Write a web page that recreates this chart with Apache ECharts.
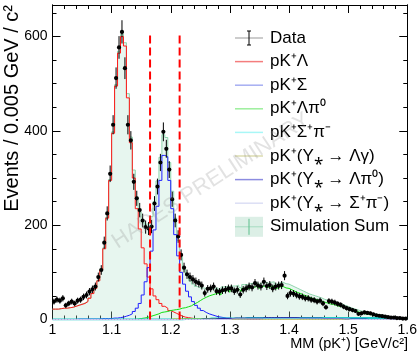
<!DOCTYPE html>
<html><head><meta charset="utf-8">
<script src="https://cdn.jsdelivr.net/npm/echarts@6/dist/echarts.min.js"></script>
<style>html,body{margin:0;padding:0;background:#fff}#c{width:420px;height:354px}</style>
</head><body><div id="c"></div>
<script>
// ---- binning ----
const xLow = 1.0, binWidth = 0.005;
const xTickLabels = ['1','1.1','1.2','1.3','1.4','1.5','1.6'];
const yTickLabels = ['0','200','400','600'];
const cutLines = [1.165, 1.215];
const cutTop = 608;

// ---- data (events per bin) ----
const dataCounts = [38,42,40,45,30,34,38,34,40,42,
 48,52,59,64,70,90,105,163,225,309,
 413,512,577,610,533,413,380,292,257,232,
 210,196,193,197,246,282,333,398,362,318,
 255,210,176,137,110,96,90,85,80,77,
 72,56,65,66,70,60,59,62,63,66,
 66,60,63,53,63,66,70,68,77,72,
 70,80,71,73,66,70,72,73,93,50,
 56,55,52,49,48,45,45,42,41,38,
 40,34,26,39,38,36,33,31,27,24,
 22,20,18,12,13,15,14,13,11,9,
 8,7,6,5,4,4,3,3,2,2];

// ---- simulated components ----
const pKLambda = [22,22,23,24,24,25,26,28,30,32,
 34,38,45,55,66,82,105,150,215,295,
 395,495,565,600,580,470,375,300,235,192,
 152,118,90,65,50,42,34,28,24,19,
 16,13,10,7,5,4,3,2,2,1,
 1,1,1,0,0,0,0,0,0,0,
 0,0,0,0,0,0,0,0,0,0,
 0,0,0,0,0,0,0,0,0,0,
 0,0,0,0,0,0,0,0,0,0,
 0,0,0,0,0,0,0,0,0,0,
 0,0,0,0,0,0,0,0,0,0,
 0,0,0,0,0,0,0,0,0,0];
const pKSigma = [0,0,0,0,0,0,0,0,1,1,
 1,1,1,1,1,1,2,2,2,2,
 3,3,4,5,7,9,12,17,24,34,
 52,80,110,145,190,240,295,348,345,295,
 235,180,135,100,75,60,48,38,30,24,
 19,15,12,10,8,6,5,4,3,3,
 2,2,2,1,1,1,1,1,1,1,
 1,1,1,1,1,1,1,1,1,1,
 1,1,1,1,1,0,0,0,0,0,
 0,0,0,0,0,0,0,0,0,0,
 0,0,0,0,0,0,0,0,0,0,
 0,0,0,0,0,0,0,0,0,0];
const pKLambdaPi0 = [0,0,0,0,0,0,0,0,0,0,
 0,0,0,0,0,0,0,0,0,0,
 0,0,0,0,0,0,0,0,1,2,
 3,4,6,8,10,12,15,16,17,19,
 20,21,22,24,25,27,29,33,36,40,
 44,47,50,52,54,56,52,60,62,58,
 63,62,64,60,66,65,67,68,70,66,
 70,71,68,70,71,66,69,70,67,66,
 63,60,57,55,52,50,47,45,43,41,
 39,37,35,33,32,30,28,27,25,23,
 21,19,17,15,13,12,11,10,9,8,
 7,6,5,4,4,3,2,2,1,1];
const pKSigmaPi = [0,0,0,0,0,0,0,0,0,0,
 0,0,0,0,0,0,0,0,0,0,
 0,0,0,0,0,0,0,0,0,0,
 0,0,0,0,0,0,0,0,0,0,
 0,0,0,0,1,1,1,1,1,1,
 1,1,1,2,2,2,2,2,2,2,
 2,2,2,2,2,3,3,3,3,3,
 3,3,3,3,3,3,3,3,3,3,
 3,3,3,3,3,3,3,3,3,3,
 3,3,3,3,3,3,3,3,3,3,
 3,3,3,3,3,3,3,3,3,3,
 3,3,3,2,2,2,2,2,2,2];
const pKYstarLgamma = [0,0,0,0,0,0,0,0,0,0,
 0,0,0,0,0,0,0,0,0,0,
 0,0,0,0,0,0,0,0,0,0,
 0,0,0,0,0,0,0,0,0,0,
 1,1,1,1,1,1,1,1,1,1,
 1,1,1,1,1,1,1,1,1,1,
 1,1,1,1,1,1,1,1,1,1,
 0,0,0,0,0,0,0,0,0,0,
 0,0,0,0,0,0,0,0,0,0,
 0,0,0,0,0,0,0,0,0,0,
 0,0,0,0,0,0,0,0,0,0,
 0,0,0,0,0,0,0,0,0,0];
const pKYstarLpi0 = [0,0,0,0,0,0,0,0,0,0,
 0,0,0,0,0,0,0,0,0,0,
 0,0,0,0,0,0,0,0,0,0,
 0,0,0,0,0,0,0,0,0,0,
 0,0,0,0,0,0,0,0,0,0,
 1,1,1,1,1,2,2,2,2,2,
 2,3,3,3,3,3,3,3,3,3,
 3,4,4,4,4,4,4,4,4,4,
 4,4,4,3,3,3,3,3,3,3,
 3,2,2,2,2,2,2,2,1,1,
 1,1,1,1,1,1,0,0,0,0,
 0,0,0,0,0,0,0,0,0,0];
const pKYstarSigmaPi = [0,0,0,0,0,0,0,0,0,0,
 0,0,0,0,0,0,0,0,0,0,
 0,0,0,0,0,0,0,0,0,0,
 0,0,0,0,0,0,0,0,0,0,
 0,0,0,0,0,0,0,0,0,0,
 0,0,0,0,0,0,0,0,0,0,
 1,1,1,1,1,1,1,1,1,1,
 1,1,1,1,1,1,1,1,1,1,
 1,1,1,1,1,1,1,1,1,1,
 1,1,1,1,1,1,1,1,1,1,
 0,0,0,0,0,0,0,0,0,0,
 0,0,0,0,0,0,0,0,0,0];

const components = [
  {name:'pK⁺Λ', vals:pKLambda, color:'#ff1a1a', legend:'#f47d7d'},
  {name:'pK⁺Σ', vals:pKSigma, color:'#2020ff', legend:'#a6aef2'},
  {name:'pK⁺Λπ⁰', vals:pKLambdaPi0, color:'#10e010', legend:'#9cef9c'},
  {name:'pK⁺Σ⁺π⁻', vals:pKSigmaPi, color:'#20c8c8', legend:'#a8f7f7', width:2},
  {name:'pK⁺(Y⁎ → Λγ)', vals:pKYstarLgamma, color:'#c8c800', legend:'#ddddb0'},
  {name:'pK⁺(Y⁎ → Λπ⁰)', vals:pKYstarLpi0, color:'#2a2aa8', legend:'#8c8ce0'},
  {name:'pK⁺(Y⁎ → Σ⁺π⁻)', vals:pKYstarSigmaPi, color:'#c8c8f0', legend:'#dcdff5'}
];

const simSum = dataCounts.map((_, i) => components.reduce((s, c) => s + c.vals[i], 0));

function stepData(vals) {
  const out = [];
  for (let i = 0; i < vals.length; i++) out.push([+(xLow + i * binWidth).toFixed(4), vals[i]]);
  out.push([+(xLow + vals.length * binWidth).toFixed(4), vals[vals.length - 1]]);
  return out;
}

const FONT = '"Liberation Sans", Arial, Helvetica, sans-serif';
const chart = echarts.init(document.getElementById('c'), null, {renderer: 'canvas'});

const series = [];
series.push({
  type: 'line', name: 'Simulation Sum', step: 'end', symbol: 'none', data: stepData(simSum),
  lineStyle: {color: '#8fd5ad', width: 1}, areaStyle: {color: 'rgba(180,226,205,0.45)', origin: 0},
  z: 1, silent: true
});
components.forEach(c => series.push({
  type: 'line', name: c.name, step: 'end', symbol: 'none', data: stepData(c.vals),
  lineStyle: {color: c.color, width: c.width || 1}, z: 3, silent: true
}));
series.push({
  type: 'custom', name: 'Data', z: 10,
  data: dataCounts.map((v, i) => [xLow + (i + 0.5) * binWidth, v, Math.sqrt(v)]),
  encode: {x: 0, y: 1},
  renderItem(params, api) {
    const x = api.value(0), y = api.value(1), e = api.value(2);
    const p = api.coord([x, y]), lo = api.coord([x, y - e]), hi = api.coord([x, y + e]);
    return {type: 'group', children: [
      {type: 'line', shape: {x1: p[0], y1: lo[1], x2: p[0], y2: hi[1]}, style: {stroke: '#000', lineWidth: 1}},
      {type: 'circle', shape: {cx: p[0], cy: p[1], r: 2.1}, style: {fill: '#000'}}
    ]};
  }
});
cutLines.forEach(cx => series.push({
  type: 'line', symbol: 'none', data: [[cx, 0], [cx, cutTop]], z: 12, silent: true,
  lineStyle: {color: '#ff0000', width: 2, type: [8, 4]}
}));

const axisCommon = {
  axisLine: {show: true, onZero: false, lineStyle: {color: '#000', width: 1}},
  splitLine: {show: false}
};
const yMax = 667;
function yAx(pos, interval, tickLen, labels) {
  return Object.assign({}, axisCommon, {
    type: 'value', position: pos, min: 0, max: yMax, interval: interval,
    axisTick: {show: true, inside: true, length: tickLen, lineStyle: {color: '#000'}},
    axisLabel: {show: labels, showMaxLabel: false, fontSize: 14, color: '#000', fontFamily: FONT, margin: 5,
      formatter: v => yTickLabels.includes(String(v)) ? String(v) : ''}
  });
}
function xAx(pos, labels) {
  return Object.assign({}, axisCommon, {
    type: 'value', position: pos, min: 1, max: 1.6, interval: 0.1,
    axisTick: {show: true, inside: true, length: 8, lineStyle: {color: '#000'}},
    minorTick: {show: true, splitNumber: 5, length: 4, lineStyle: {color: '#000'}},
    axisLabel: {show: labels, fontSize: 14, color: '#000', fontFamily: FONT, margin: 4,
      formatter: v => xTickLabels[Math.round((v - 1) * 10)] || ''}
  });
}

// legend (drawn as graphics)
const gfx = [];
const legX1 = 235, legX2 = 263, legTx = 270, legY0 = 38, legDy = 23.6;
const legendRows = [{name: 'Data', kind: 'data'}]
  .concat(components.map(c => ({name: c.name, kind: 'line', color: c.legend})))
  .concat([{name: 'Simulation Sum', kind: 'sum'}]);
legendRows.forEach((r, k) => {
  const y = legY0 + legDy * k;
  if (r.kind === 'data') {
    gfx.push({type: 'line', shape: {x1: legX1, y1: y, x2: legX2, y2: y}, style: {stroke: '#999', lineWidth: 1}});
    gfx.push({type: 'line', shape: {x1: 249, y1: y - 7, x2: 249, y2: y + 7}, style: {stroke: '#000', lineWidth: 1}});
    gfx.push({type: 'line', shape: {x1: 247, y1: y - 7, x2: 251, y2: y - 7}, style: {stroke: '#000', lineWidth: 1}});
    gfx.push({type: 'line', shape: {x1: 247, y1: y + 7, x2: 251, y2: y + 7}, style: {stroke: '#000', lineWidth: 1}});
  } else if (r.kind === 'line') {
    gfx.push({type: 'line', shape: {x1: legX1, y1: y, x2: legX2, y2: y}, style: {stroke: r.color, lineWidth: 1.5}});
  } else {
    gfx.push({type: 'rect', shape: {x: legX1, y: y - 10, width: legX2 - legX1, height: 20}, style: {fill: '#dcefe6'}});
    gfx.push({type: 'line', shape: {x1: legX1, y1: y, x2: legX2, y2: y}, style: {stroke: '#a5dcc0', lineWidth: 1}});
    gfx.push({type: 'line', shape: {x1: 249, y1: y - 8, x2: 249, y2: y + 8}, style: {stroke: '#5cbf8c', lineWidth: 1}});
  }
  gfx.push({type: 'text', x: legTx, y: y, style: {text: r.name, fill: '#000', fontSize: 17, fontFamily: FONT, verticalAlign: 'middle'}});
});
// axis titles
gfx.push({type: 'text', x: 408, y: 344, style: {text: 'MM (pK⁺) [GeV/c²]', fill: '#000', fontSize: 14.5, fontFamily: FONT, align: 'right', verticalAlign: 'middle'}});
gfx.push({type: 'text', x: 12, y: 5, rotation: Math.PI / 2, style: {text: 'Events / 0.005 GeV / c²', fill: '#000', fontSize: 20, fontFamily: FONT, align: 'right', verticalAlign: 'middle'}});
// watermark
gfx.push({type: 'text', x: 211, y: 181, rotation: 33 * Math.PI / 180, z: 20,
  style: {text: 'HADES PRELIMINARY', fill: 'rgba(140,140,140,0.25)', fontSize: 22, fontFamily: FONT, align: 'center', verticalAlign: 'middle'}});

chart.setOption({
  animation: false,
  backgroundColor: '#fff',
  grid: {left: 52.5, right: 11, top: 5, bottom: 34.5, containLabel: false},
  xAxis: [xAx('bottom', true), xAx('top', false)],
  yAxis: [yAx('left', 200, 8, true), yAx('left', 50, 4, false), yAx('right', 200, 8, false), yAx('right', 50, 4, false)],
  series: series,
  graphic: gfx
});
</script></body></html>
